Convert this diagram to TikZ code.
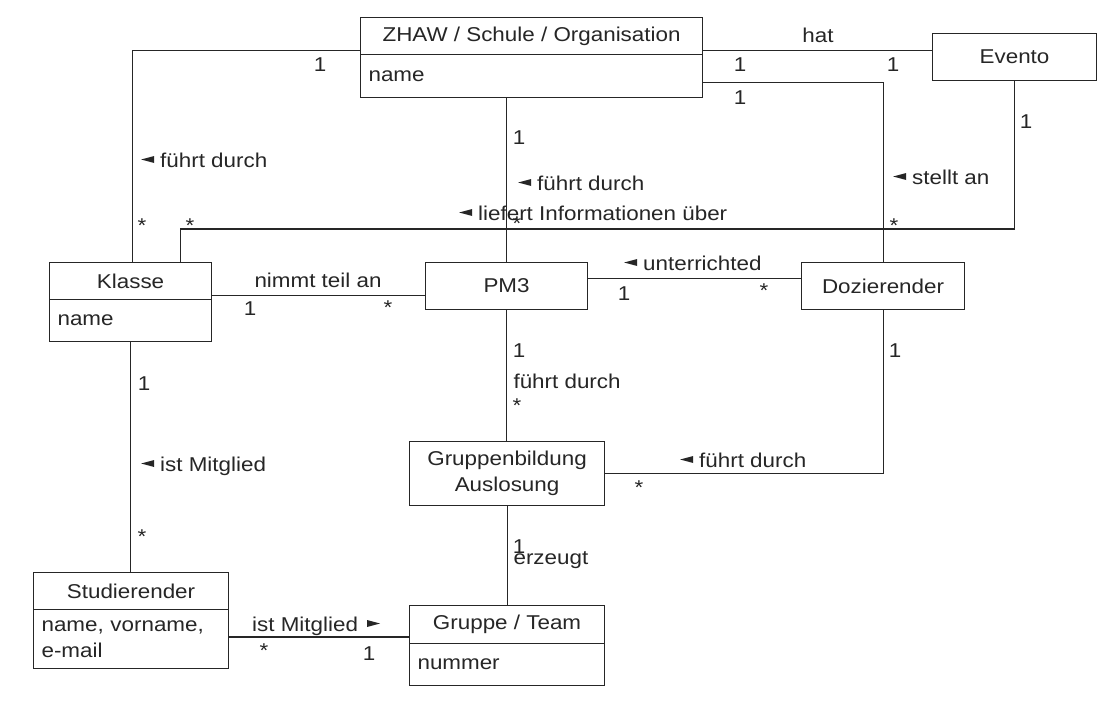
\documentclass[tikz,border=0pt]{standalone}
\usepackage{fontspec}
\setmainfont{Liberation Sans}[FakeStretch=1.12]
\definecolor{ink}{gray}{0.15}
\newcommand\ltri{\tikz[baseline=0pt,x=1pt,y=1pt]\fill[ink] (0,7.5)--(13,11)--(13,4)--cycle;\hspace{6pt}}
\newcommand\rtri{\hspace{9pt}\tikz[baseline=0pt,x=1pt,y=1pt]\fill[ink] (0,4)--(13,7.5)--(0,11)--cycle;}
\begin{document}
\begin{tikzpicture}[x=1pt,y=-1pt, font=\fontsize{20}{26}\selectfont, color=ink, line width=1.1pt,
 box/.style={draw, inner sep=0pt, anchor=north west, align=center},
 attr/.style={draw, inner xsep=8pt, inner ysep=0pt, anchor=north west, align=left},
 lab/.style={inner sep=0pt, anchor=base west},
 mul/.style={inner sep=0pt, anchor=base}]
\useasboundingbox[fill=white] (0,0) rectangle (1118,715);

% classes
\node[box, minimum width=342pt, minimum height=37pt] (zh) at (360,17) {ZHAW / Schule / Organisation};
\node[attr, text width=326pt, minimum height=43pt] (za) at (360,54) {name};
\node[box, minimum width=164pt, minimum height=47pt] (ev) at (932,33) {Evento};
\node[box, minimum width=162pt, minimum height=37pt] (kh) at (49,262) {Klasse};
\node[attr, text width=146pt, minimum height=42pt] (ka) at (49,299) {name};
\node[box, minimum width=162pt, minimum height=47pt] (pm) at (425,262) {PM3};
\node[box, minimum width=163pt, minimum height=47pt] (dz) at (801,262) {Dozierender};
\node[box, minimum width=195pt, minimum height=64pt] (gb) at (409,441) {Gruppenbildung\\Auslosung};
\node[box, minimum width=195pt, minimum height=37pt] (sh) at (33,572) {Studierender};
\node[attr, text width=179pt, minimum height=59pt] (sa) at (33,609) {name, vorname,\\e-mail};
\node[box, minimum width=195pt, minimum height=38pt] (gt) at (409,605) {Gruppe / Team};
\node[attr, text width=179pt, minimum height=42pt] (ga) at (409,643) {nummer};

% connectors
\coordinate (a1) at ([yshift=5pt]zh.south west);
\draw (a1) -| ([xshift=2pt]kh.north);
\draw (a1 -| zh.east) -- (a1 -| ev.west);
\coordinate (a2) at ([yshift=16pt]za.south east);
\draw (a2) -| (dz.north);
\draw (pm.north |- za.south) -- (pm.north);
\draw ([xshift=50pt]kh.north) -- ++(0,-33) -| (ev.south);
\coordinate (k1) at ([yshift=5pt]kh.south east);
\draw (k1) -- (k1 -| pm.west);
\draw ([yshift=7.5pt]pm.east) -- ([yshift=7.5pt]dz.west);
\draw (pm.south) -- (pm.south |- gb.north);
\draw (dz.south) |- (gb.east);
\draw (gb.south) -- (gt.north);
\draw (ka.south) -- (ka.south |- sh.north);
\coordinate (s1) at ([yshift=-28pt]sa.north east);
\draw (s1) -- (s1 -| gt.west);

% labels
\node[mul] (m1) at (320,71) {1};
\node[lab] (t1) at (141,167) {\ltri führt durch};
\node[mul] (m2) at (142,232) {*};
\node[mul] (m3) at (190,232) {*};
\node[mul] (m4) at (519,144) {1};
\node[lab] (t2) at (518,190) {\ltri führt durch};
\node[lab] (t3) at (459,220) {\ltri liefert Informationen über};
\node[mul] (m5) at (517,230) {*};
\node[mul] (t4) at (318,287) {nimmt teil an};
\node[mul] (m6) at (250,315) {1};
\node[mul] (m7) at (388,314) {*};
\node[mul] (t5) at (818,42) {hat};
\node[mul] (m8) at (740,71) {1};
\node[mul] (m9) at (893,71) {1};
\node[mul] (m10) at (740,104) {1};
\node[lab] (t6) at (893,184) {\ltri stellt an};
\node[mul] (m11) at (894,232) {*};
\node[mul] (m12) at (1026,128) {1};
\node[lab] (t7) at (624,270) {\ltri unterrichted};
\node[mul] (m13) at (624,300) {1};
\node[mul] (m14) at (764,297) {*};
\node[mul] (m15) at (895,357) {1};
\node[mul] (m16) at (519,357) {1};
\node[lab] (t8) at (513,388) {führt durch};
\node[mul] (m17) at (517,412) {*};
\node[mul] (m18) at (144,390) {1};
\node[lab] (t9) at (141,471) {\ltri ist Mitglied};
\node[mul] (m19) at (142,543) {*};
\node[mul] (m20) at (519,553) {1};
\node[lab] (t10) at (513,564) {erzeugt};
\node[lab] (t11) at (252,631) {ist Mitglied\rtri};
\node[mul] (m21) at (264,657) {*};
\node[mul] (m22) at (369,660) {1};
\node[lab] (t12) at (680,467) {\ltri führt durch};
\node[mul] (m23) at (639,494) {*};
\end{tikzpicture}
\end{document}
